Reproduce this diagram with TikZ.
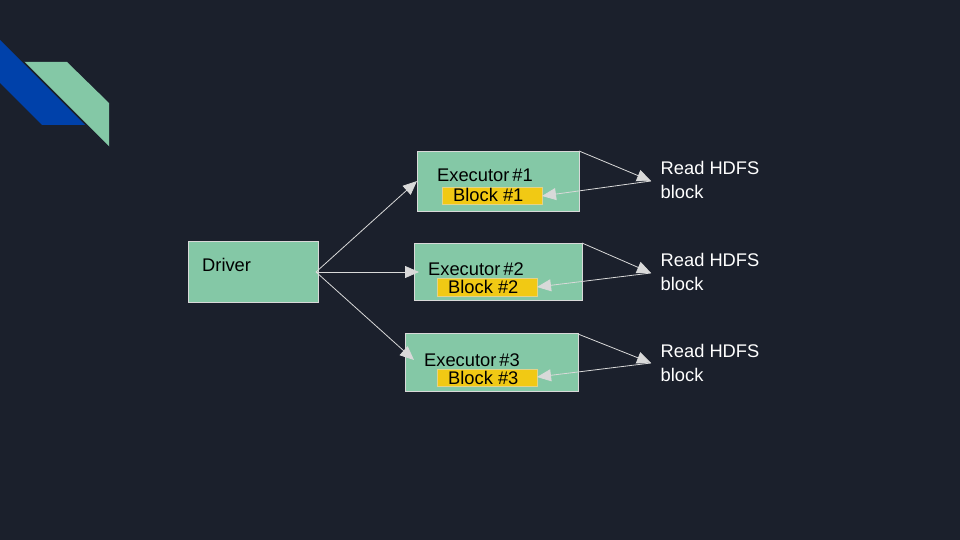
\documentclass[tikz,border=0pt]{standalone}
\usepackage{fontspec}
\setmainfont{Liberation Sans}
\usetikzlibrary{arrows.meta}
\definecolor{bgc}{RGB}{27,32,44}
\definecolor{grn}{RGB}{132,200,166}
\definecolor{blu}{RGB}{0,65,170}
\definecolor{ylw}{RGB}{241,201,20}
\definecolor{lne}{RGB}{217,217,217}
\tikzset{
  box/.style={draw=lne, line width=0.8pt, fill=grn},
  blockbox/.style={draw=lne!60!ylw, line width=0.8pt, fill=ylw},
  lbl/.style={anchor=base west, inner sep=0pt, font=\fontsize{18.3}{23.5}\selectfont},
  wlbl/.style={lbl, text=white, align=left},
  conn/.style={draw=lne, line width=0.8pt, -{Triangle[length=14pt,width=12pt]}},
}
\begin{document}
\begin{tikzpicture}[x=1pt,y=-1pt]
\fill[bgc] (0,0) rectangle (960,540);
\useasboundingbox (0,0) rectangle (960,540);
% decoration
\fill[blu] (0,40) -- (85,125) -- (42,125) -- (0,83) -- cycle;
\fill[grn] (24,62) -- (67,62) -- (109,103) -- (109,147) -- cycle;
\draw[bgc, line width=1pt] (24,62) -- (109,147);
% boxes
\path[box] (188,241) rectangle (318,302);
\coordinate (drv) at (316,272);
\node[lbl] (drvt) at (202,271) {Driver};
\path[box] (417,151) rectangle (579,211);
\path[box] (414,243) rectangle (582,300);
\path[box] (405,333) rectangle (578,391);
\coordinate (e1ne) at (579,151);
\coordinate (e2ne) at (582,243);
\coordinate (e3ne) at (578,334);
\coordinate (e1w) at (417,181);
\coordinate (e2w) at (419,272);
\coordinate (e3w) at (414,360);
\path[blockbox] (442,187) rectangle (542,204);
\path[blockbox] (437,278) rectangle (537,296);
\path[blockbox] (437,369) rectangle (537,386);
\coordinate (b1) at (542,196);
\coordinate (b2) at (537,287);
\coordinate (b3) at (537,377);
\node[lbl] (e1t) at (437,181.7) {Executor\,\#1};
\node[lbl] (e2t) at (428,275.7) {Executor\,\#2};
\node[lbl] (e3t) at (424,366.7) {Executor\,\#3};
\node[lbl] (b1t) at (453,201.7) {Block \#1};
\node[lbl] (b2t) at (448,293) {Block \#2};
\node[lbl] (b3t) at (448,384) {Block \#3};
% right side targets
\coordinate (r1) at (651,181);
\coordinate (r2) at (651,273);
\coordinate (r3) at (651,363);
\node[wlbl] (t1) at (660.5,198) {Read HDFS\\block};
\node[wlbl] (t2) at (660.5,290) {Read HDFS\\block};
\node[wlbl] (t3) at (660.5,381) {Read HDFS\\block};
% connectors
\draw[conn] (drv) -- (e1w);
\draw[conn] (drv) -- (e2w);
\draw[conn] (drv) -- (e3w);
\draw[conn] (e1ne) -- (r1);
\draw[conn] (e2ne) -- (r2);
\draw[conn] (e3ne) -- (r3);
\draw[conn] (r1) -- (b1);
\draw[conn] (r2) -- (b2);
\draw[conn] (r3) -- (b3);
\end{tikzpicture}
\end{document}
